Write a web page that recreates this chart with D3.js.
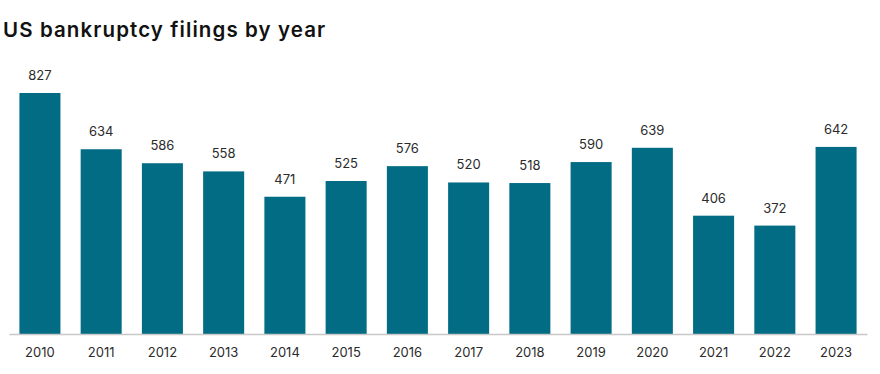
<!DOCTYPE html>
<head>
  <meta charset="utf-8">
  <script src="https://d3js.org/d3.v7.min.js"></script>
  <style>
  body { margin: 0; background: #fff; }
  .title { font-family: Inter, "Noto Sans", sans-serif; font-size: 20.5px; font-weight: 600; letter-spacing: 1.1px; fill: #111; }
  .val, .tick text { font-family: Inter, "Noto Sans", sans-serif; font-size: 13px; fill: #2b2b2b; }
  </style>
</head>
<body>
  <script>
    // data
    var years = ["2010","2011","2012","2013","2014","2015","2016","2017","2018","2019","2020","2021","2022","2023"];
    var filings = [827, 634, 586, 558, 471, 525, 576, 520, 518, 590, 639, 406, 372, 642];

    var W = 880, H = 374;
    var svg = d3.select("body").append("svg")
        .attr("width", W)
        .attr("height", H);

    svg.append("text")
      .attr("class", "title")
      .attr("x", 3)
      .attr("y", 37)
      .text("US bankruptcy filings by year");

    // scales
    var xScale = d3.scaleBand()
        .domain(years)
        .range([9, 867])
        .paddingInner(0.33)
        .paddingOuter(0.17);

    var yScale = d3.scaleLinear()
        .domain([0, 827])
        .range([334, 93]);

    // bars
    svg.selectAll(".bar")
      .data(years)
      .enter().append("rect")
      .attr("class", "bar")
      .attr("x", function(d) { return xScale(d); })
      .attr("width", xScale.bandwidth())
      .attr("y", function(d, i) { return yScale(filings[i]); })
      .attr("height", function(d, i) { return yScale(0) - yScale(filings[i]); })
      .attr("fill", "#036c85");

    // value labels
    svg.selectAll(".val")
      .data(years)
      .enter().append("text")
      .attr("class", "val")
      .attr("x", function(d) { return xScale(d) + xScale.bandwidth() / 2; })
      .attr("y", function(d, i) { return yScale(filings[i]) - 13; })
      .attr("text-anchor", "middle")
      .text(function(d, i) { return filings[i]; });

    // x axis
    var xAxis = svg.append("g")
      .attr("transform", "translate(0,334)")
      .call(d3.axisBottom(xScale).tickSize(0).tickPadding(14));
    xAxis.select(".domain").attr("stroke", "#c8c8c8").attr("stroke-width", 1.5);
  </script>
</body>
